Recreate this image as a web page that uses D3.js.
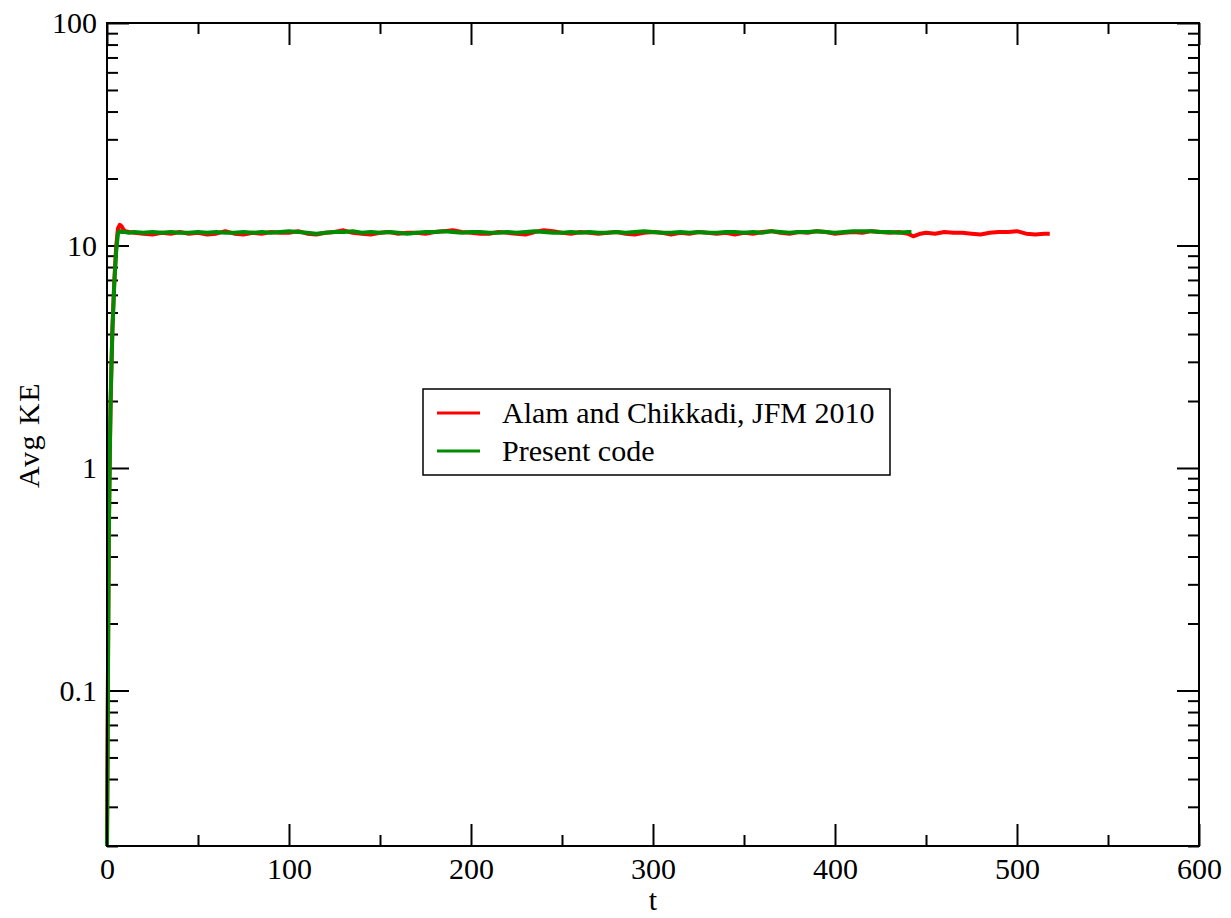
<!DOCTYPE html>
<html>
<head>
<meta charset="utf-8">
<script src="https://cdn.jsdelivr.net/npm/d3@7"></script>
<style>
  body { margin: 0; background: #fff; }
  svg text { font-family: "Liberation Serif", "Times New Roman", serif; }
</style>
</head>
<body>
<svg id="chart" width="1231" height="918"></svg>
<script>
// data
var seriesNames = ["Alam and Chikkadi, JFM 2010", "Present code"];
var seriesColors = ["#ff0000", "#008c00"];

var tRed = [0, 0.3, 0.6, 1, 1.5, 2, 2.5, 3, 4, 5, 6, 7, 8, 9, 10, 12, 15,
  20, 25, 30, 35, 40, 45, 50, 55, 60, 65, 70, 75, 80, 85, 90, 95, 100,
  105, 110, 115, 120, 125, 130, 135, 140, 145, 150, 155, 160, 165, 170, 175, 180,
  185, 190, 195, 200, 205, 210, 215, 220, 225, 230, 235, 240, 245, 250, 255, 260,
  265, 270, 275, 280, 285, 290, 295, 300, 305, 310, 315, 320, 325, 330, 335, 340,
  345, 350, 355, 360, 365, 370, 375, 380, 385, 390, 395, 400, 405, 410, 415, 420,
  425, 430, 435, 440, 443, 447, 450, 455, 460, 465, 470, 475, 480, 485, 490, 495,
  500, 505, 510, 515, 518];
var keRed = [0.02, 0.05, 0.15, 0.5, 1.1, 2.0, 3.0, 4.3, 6.9, 9.8, 11.9, 12.4, 12.2, 11.8, 11.6, 11.5, 11.4,
  11.3, 11.2, 11.4, 11.3, 11.5, 11.3, 11.4, 11.2, 11.3, 11.6, 11.3, 11.2, 11.4, 11.3, 11.5, 11.4, 11.4,
  11.6, 11.3, 11.2, 11.4, 11.5, 11.7, 11.4, 11.3, 11.2, 11.4, 11.5, 11.3, 11.4, 11.4, 11.3, 11.5,
  11.6, 11.7, 11.5, 11.4, 11.3, 11.3, 11.5, 11.4, 11.3, 11.2, 11.5, 11.7, 11.6, 11.4, 11.3, 11.5,
  11.4, 11.3, 11.4, 11.5, 11.3, 11.2, 11.4, 11.5, 11.4, 11.2, 11.4, 11.3, 11.5, 11.4, 11.3, 11.4,
  11.2, 11.4, 11.3, 11.5, 11.6, 11.4, 11.3, 11.5, 11.4, 11.6, 11.5, 11.3, 11.4, 11.5, 11.4, 11.6,
  11.5, 11.4, 11.5, 11.3, 11.0, 11.3, 11.4, 11.3, 11.5, 11.4, 11.4, 11.3, 11.2, 11.4, 11.5, 11.5,
  11.6, 11.3, 11.2, 11.3, 11.3];

var tGreen = [0, 0.3, 0.6, 1, 1.5, 2, 2.5, 3, 4, 5, 6, 7, 8, 10, 12, 15,
  20, 25, 30, 35, 40, 45, 50, 55, 60, 65, 70, 75, 80, 85, 90, 95, 100,
  105, 110, 115, 120, 125, 130, 135, 140, 145, 150, 155, 160, 165, 170, 175, 180,
  185, 190, 195, 200, 205, 210, 215, 220, 225, 230, 235, 240, 245, 250, 255, 260,
  265, 270, 275, 280, 285, 290, 295, 300, 305, 310, 315, 320, 325, 330, 335, 340,
  345, 350, 355, 360, 365, 370, 375, 380, 385, 390, 395, 400, 405, 410, 415, 420,
  425, 430, 435, 440, 442];
var keGreen = [0.02, 0.05, 0.15, 0.5, 1.1, 2.0, 3.0, 4.2, 6.7, 9.3, 11.3, 11.6, 11.5, 11.5, 11.4, 11.5,
  11.4, 11.5, 11.4, 11.5, 11.4, 11.4, 11.5, 11.4, 11.5, 11.4, 11.4, 11.5, 11.4, 11.5, 11.4, 11.5, 11.6,
  11.5, 11.4, 11.3, 11.4, 11.5, 11.5, 11.6, 11.4, 11.5, 11.4, 11.5, 11.4, 11.3, 11.4, 11.5, 11.5,
  11.6, 11.5, 11.4, 11.5, 11.5, 11.4, 11.4, 11.5, 11.4, 11.5, 11.6, 11.5, 11.4, 11.4, 11.5, 11.4,
  11.5, 11.4, 11.4, 11.5, 11.4, 11.5, 11.6, 11.5, 11.4, 11.4, 11.5, 11.4, 11.5, 11.4, 11.4, 11.5,
  11.5, 11.4, 11.5, 11.4, 11.6, 11.5, 11.4, 11.5, 11.5, 11.6, 11.5, 11.4, 11.5, 11.6, 11.6, 11.6,
  11.5, 11.5, 11.4, 11.5, 11.5];

var xMajor = [0, 100, 200, 300, 400, 500, 600];
var xMinor = [50, 150, 250, 350, 450, 550];
var yMajor = [0.1, 1, 10, 100];
var yTickLabels = ["0.1", "1", "10", "100"];

var margin = {top: 23, right: 32, bottom: 72, left: 107};
var width = 1231 - margin.left - margin.right,
  height = 918 - margin.top - margin.bottom;

var svg = d3.select("#chart");
var g = svg.append("g").attr("transform", "translate(" + margin.left + "," + margin.top + ")");

var x = d3.scaleLinear().domain([0, 600]).range([0, width]);
var y = d3.scaleLog().domain([0.02, 100]).range([height, 0]);

// minor log ticks 2..9 in each decade
var yMinor = [];
[0.01, 0.1, 1, 10].forEach(function (d) {
  for (var k = 2; k <= 9; k++) {
    var v = +(d * k).toPrecision(3);
    if (v >= 0.02 && v < 100) yMinor.push(v);
  }
});

var fmtY = function (d) { return yTickLabels[yMajor.indexOf(d)]; };

function styleAxis(sel) {
  sel.select(".domain").remove();
  sel.selectAll("line").attr("stroke", "#000").attr("stroke-width", 2);
  sel.selectAll("text").attr("font-size", 30).attr("fill", "#000")
    .style("font-family", "'Liberation Serif', serif");
}

// bottom
g.append("g").attr("transform", "translate(0," + height + ")")
  .call(d3.axisBottom(x).tickValues(xMajor).tickSize(-22).tickPadding(12).tickFormat(d3.format("d")))
  .call(styleAxis);
g.append("g").attr("transform", "translate(0," + height + ")")
  .call(d3.axisBottom(x).tickValues(xMinor).tickSize(-11).tickFormat(""))
  .call(styleAxis);
// top
g.append("g")
  .call(d3.axisTop(x).tickValues(xMajor).tickSize(-22).tickFormat(""))
  .call(styleAxis);
g.append("g")
  .call(d3.axisTop(x).tickValues(xMinor).tickSize(-11).tickFormat(""))
  .call(styleAxis);
// left
g.append("g")
  .call(d3.axisLeft(y).tickValues(yMajor).tickSize(-22).tickPadding(10).tickFormat(fmtY))
  .call(styleAxis);
g.append("g")
  .call(d3.axisLeft(y).tickValues(yMinor).tickSize(-11).tickFormat(""))
  .call(styleAxis);
// right
g.append("g").attr("transform", "translate(" + width + ",0)")
  .call(d3.axisRight(y).tickValues(yMajor).tickSize(-22).tickFormat(""))
  .call(styleAxis);
g.append("g").attr("transform", "translate(" + width + ",0)")
  .call(d3.axisRight(y).tickValues(yMinor).tickSize(-11).tickFormat(""))
  .call(styleAxis);

// lines
var line = d3.line()
  .x(function (d) { return x(d[0]); })
  .y(function (d) { return y(d[1]); });

var series = [d3.zip(tRed, keRed), d3.zip(tGreen, keGreen)];

g.selectAll("path.series")
  .data(series)
  .enter()
  .append("path")
  .attr("class", "series")
  .attr("d", line)
  .attr("fill", "none")
  .attr("stroke-width", 4)
  .attr("stroke-linejoin", "round")
  .attr("stroke", function (d, i) { return seriesColors[i]; });

// frame
g.append("rect")
  .attr("width", width).attr("height", height)
  .attr("fill", "none").attr("stroke", "#000").attr("stroke-width", 2);

// axis titles
svg.append("text")
  .attr("x", margin.left + width / 2).attr("y", 910)
  .attr("text-anchor", "middle").attr("font-size", 30)
  .text("t");
svg.append("text")
  .attr("transform", "translate(39," + 435 + ") rotate(-90)")
  .attr("text-anchor", "middle").attr("font-size", 30)
  .attr("letter-spacing", 1.5)
  .text("Avg KE");

// legend
var legend = svg.append("g").attr("transform", "translate(423,389)");
legend.append("rect")
  .attr("width", 467).attr("height", 86)
  .attr("fill", "#fff").attr("stroke", "#000").attr("stroke-width", 1.5);
var items = legend.selectAll("g.item")
  .data(seriesNames)
  .enter()
  .append("g")
  .attr("class", "item")
  .attr("transform", function (d, i) { return "translate(0," + (24 + i * 38) + ")"; });
items.append("line")
  .attr("x1", 14).attr("x2", 57)
  .attr("stroke-width", 3)
  .attr("stroke", function (d, i) { return seriesColors[i]; });
items.append("text")
  .attr("x", 79).attr("y", 10)
  .attr("font-size", 30)
  .text(function (d) { return d; });
</script>
</body>
</html>
